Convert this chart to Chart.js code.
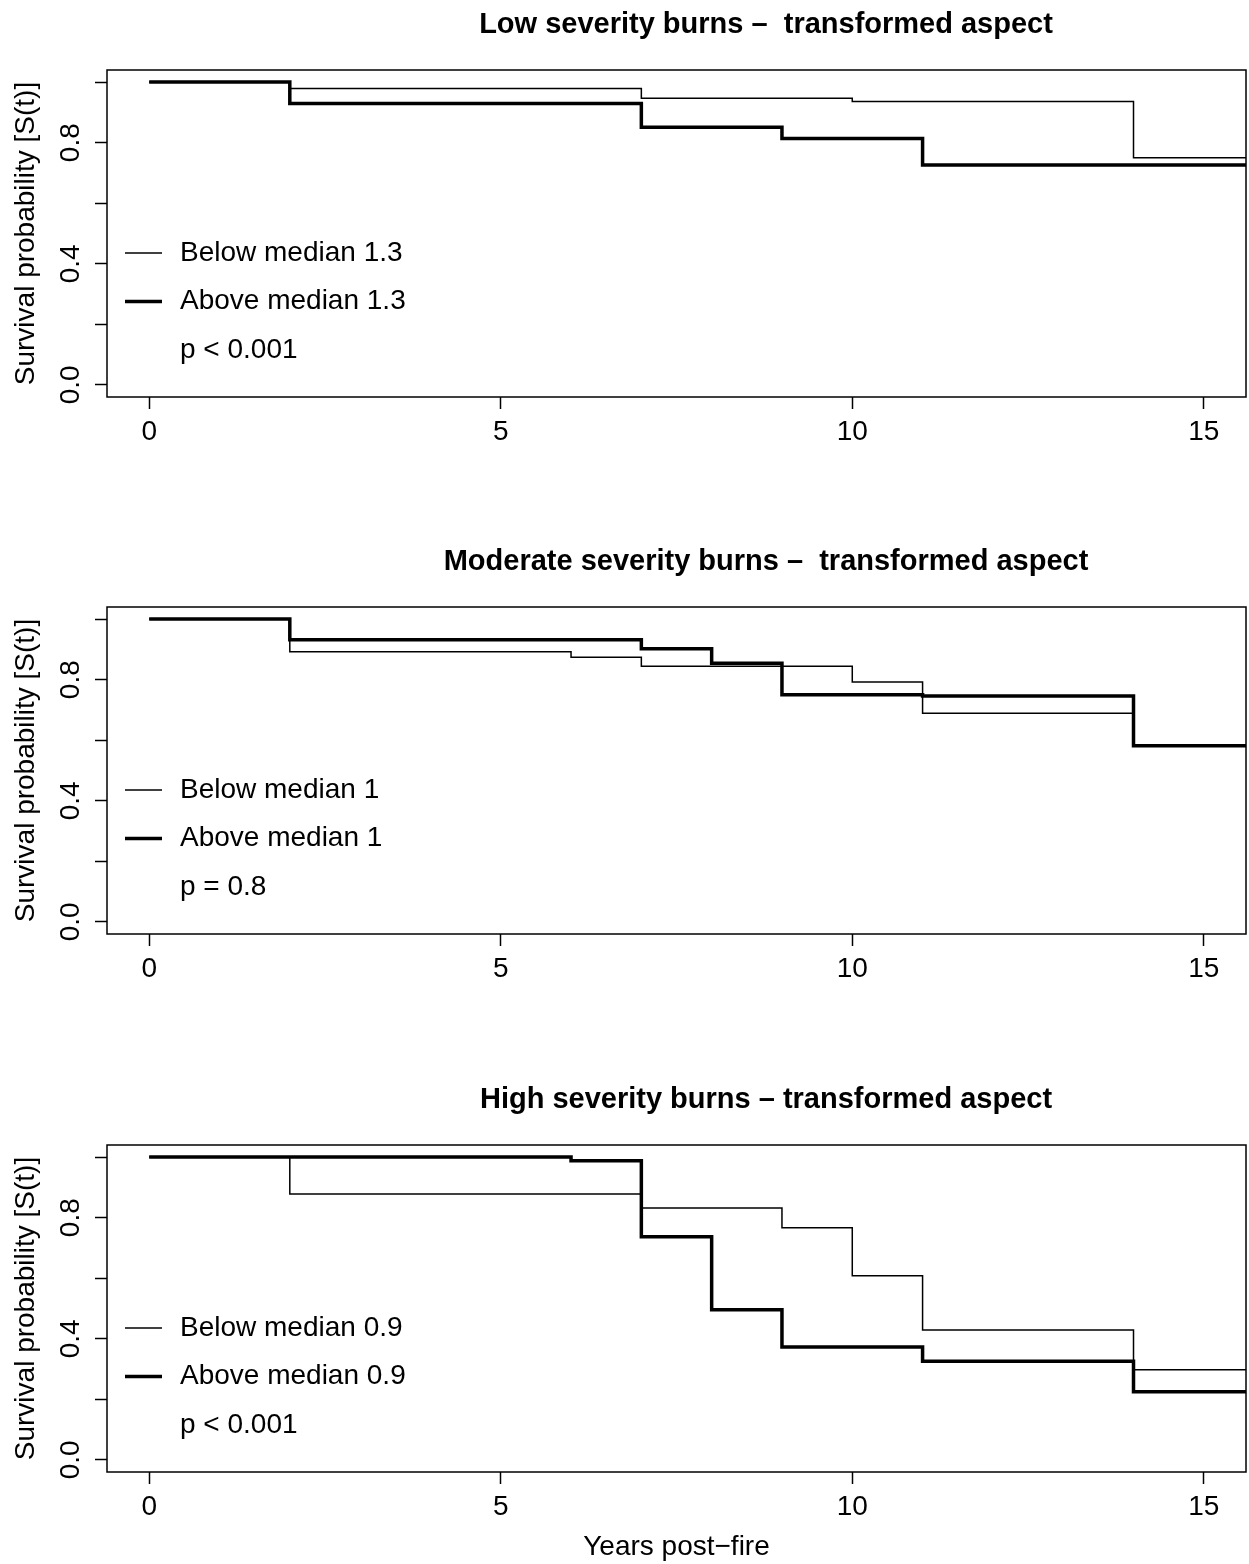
<!DOCTYPE html>
<html>
<head>
<meta charset="utf-8">
<script src="https://cdn.jsdelivr.net/npm/chart.js@4/dist/chart.umd.min.js"></script>
<style>
  body { margin: 0; background: #fff; }
  .panel { position: absolute; left: 0; }
</style>
</head>
<body>
<div class="panel" style="top:0px"><canvas id="low" width="1249" height="537"></canvas></div>
<div class="panel" style="top:537px"><canvas id="moderate" width="1249" height="538"></canvas></div>
<div class="panel" style="top:1075px"><canvas id="high" width="1249" height="489"></canvas></div>
<script>
// Kaplan-Meier step data (years post-fire vs S(t))
const xTicks = [0, 5, 10, 15];
const yTicks = [0, 0.2, 0.4, 0.6, 0.8, 1.0];
const yTickLabels = ['0.0', '', '0.4', '', '0.8', ''];

const lowBelowT = [0, 2, 7, 10, 14, 15.6];
const lowBelowS = [1, 0.979, 0.947, 0.936, 0.750, 0.750];
const lowAboveT = [0, 2, 7, 9, 11, 15.6];
const lowAboveS = [1, 0.929, 0.851, 0.814, 0.726, 0.726];

const modBelowT = [0, 2, 6, 7, 10, 11, 14, 15.6];
const modBelowS = [1, 0.892, 0.874, 0.844, 0.792, 0.689, 0.582, 0.582];
const modAboveT = [0, 2, 7, 8, 9, 11, 14, 15.6];
const modAboveS = [1, 0.932, 0.902, 0.854, 0.750, 0.746, 0.582, 0.582];

const highBelowT = [0, 2, 7, 9, 10, 11, 14, 15.6];
const highBelowS = [1, 0.878, 0.832, 0.767, 0.608, 0.429, 0.298, 0.298];
const highAboveT = [0, 6, 7, 8, 9, 11, 14, 15.6];
const highAboveS = [1, 0.988, 0.737, 0.496, 0.373, 0.326, 0.225, 0.225];

const FONT = '"Liberation Sans", Arial, Helvetica, sans-serif';
Chart.defaults.font.family = FONT;
Chart.defaults.font.size = 28;
Chart.defaults.color = '#000';

const toPoints = (t, s) => t.map((x, i) => ({ x: x, y: s[i] }));

// box, title and in-plot legend (R style)
const rDecor = {
    id: 'rDecor',
    afterDraw(chart, args, opts) {
        const { ctx, chartArea: a } = chart;
        ctx.save();
        ctx.strokeStyle = '#000';
        ctx.lineWidth = 1.5;
        ctx.strokeRect(a.left, a.top, a.right - a.left, a.bottom - a.top);

        ctx.font = 'bold 29px ' + FONT;
        ctx.fillStyle = '#000';
        ctx.textAlign = 'center';
        ctx.textBaseline = 'middle';
        ctx.fillText(opts.title, 766, a.top - 45);

        ctx.font = '28px ' + FONT;
        ctx.textAlign = 'left';
        chart.data.datasets.forEach((ds, i) => {
            const y = a.bottom - 144 + i * 48.5;
            ctx.lineWidth = ds.borderWidth;
            ctx.beginPath();
            ctx.moveTo(a.left + 18, y);
            ctx.lineTo(a.left + 55, y);
            ctx.stroke();
            ctx.fillText(ds.label, a.left + 73, y);
        });
        ctx.fillText(opts.pText, a.left + 73, a.bottom - 47);
        ctx.restore();
    }
};

function makeChart(id, title, bT, bS, aT, aS, median, pText, showXTitle) {
    const canvas = document.getElementById(id);
    const H = canvas.height;
    return new Chart(canvas, {
        type: 'line',
        data: {
            datasets: [
                { label: 'Below median ' + median, data: toPoints(bT, bS), borderColor: '#000', borderWidth: 1.5, stepped: true, pointRadius: 0, order: 1 },
                { label: 'Above median ' + median, data: toPoints(aT, aS), borderColor: '#000', borderWidth: 3.5, stepped: true, pointRadius: 0, order: 0 }
            ]
        },
        options: {
            responsive: false,
            animation: false,
            devicePixelRatio: 1,
            layout: { padding: { top: 70, left: 0, right: 3, bottom: 0 } },
            plugins: {
                legend: { display: false },
                tooltip: { enabled: false },
                rDecor: { title: title, pText: pText }
            },
            scales: {
                x: {
                    type: 'linear', min: -0.6, max: 15.6,
                    afterBuildTicks: s => { s.ticks = xTicks.map(v => ({ value: v })); },
                    afterFit: s => { s.height = H - 397; },
                    grid: { drawOnChartArea: false, tickLength: 12, tickWidth: 1.5, color: '#000' },
                    border: { display: false },
                    ticks: { padding: 6, maxRotation: 0, color: '#000' },
                    title: { display: showXTitle, text: 'Years post\u2212fire', padding: 0, color: '#000' }
                },
                y: {
                    type: 'linear', min: -0.04, max: 1.04,
                    afterBuildTicks: s => { s.ticks = yTicks.map(v => ({ value: v })); },
                    afterFit: s => { s.width = 107; },
                    grid: { drawOnChartArea: false, tickLength: 12, tickWidth: 1.5, color: '#000' },
                    border: { display: false },
                    ticks: {
                        padding: 4, minRotation: 90, maxRotation: 90, crossAlign: 'center', color: '#000',
                        callback: (v, i) => yTickLabels[i]
                    },
                    title: { display: true, text: 'Survival probability [S(t)]', padding: { top: 9 }, color: '#000' }
                }
            }
        },
        plugins: [rDecor]
    });
}

makeChart('low', 'Low severity burns \u2013  transformed aspect', lowBelowT, lowBelowS, lowAboveT, lowAboveS, '1.3', 'p < 0.001', false);
makeChart('moderate', 'Moderate severity burns \u2013  transformed aspect', modBelowT, modBelowS, modAboveT, modAboveS, '1', 'p = 0.8', false);
makeChart('high', 'High severity burns \u2013 transformed aspect', highBelowT, highBelowS, highAboveT, highAboveS, '0.9', 'p < 0.001', true);
</script>
</body>
</html>
